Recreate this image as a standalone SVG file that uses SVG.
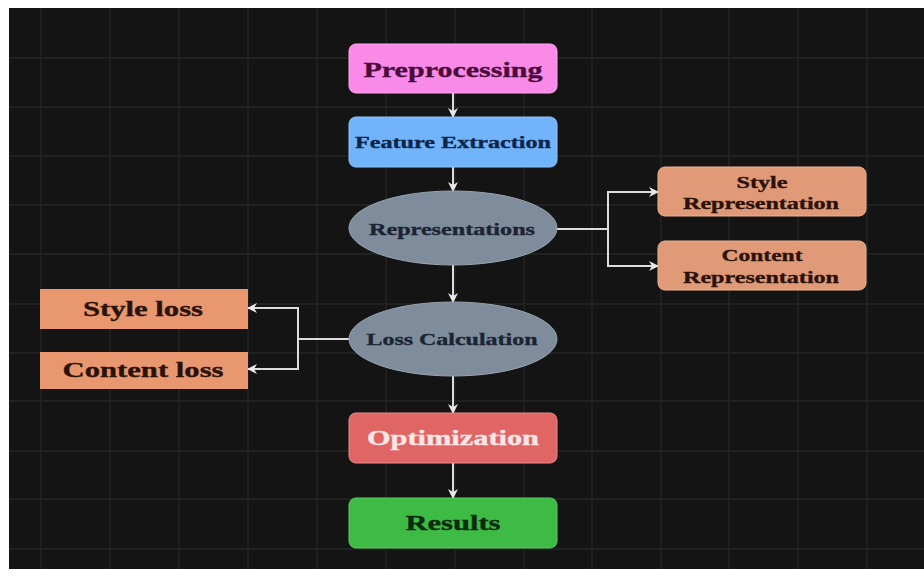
<svg xmlns="http://www.w3.org/2000/svg" width="924" height="576" viewBox="0 0 924 576">
<defs>
<style>
.grid line{stroke:#262626;stroke-width:1.3}
.t{font-family:"Liberation Serif","Times New Roman",serif;font-weight:bold;text-anchor:middle;stroke-width:0.35}
.c{fill:none;stroke:#dcdcdc;stroke-width:2}
</style>
<marker id="ah" viewBox="0 0 10 10" refX="9" refY="5" markerWidth="10" markerHeight="10" markerUnits="userSpaceOnUse" orient="auto">
<path d="M0,0 L10,5 L0,10 L3,5 Z" fill="#e8e8e8"/>
</marker>
</defs>
<rect x="0" y="0" width="924" height="576" fill="#ffffff"/>
<rect x="9" y="8" width="915" height="561" fill="#141414"/>
<g class="grid">
<line x1="41" y1="8" x2="41" y2="569"/><line x1="110" y1="8" x2="110" y2="569"/><line x1="179" y1="8" x2="179" y2="569"/><line x1="248" y1="8" x2="248" y2="569"/><line x1="317" y1="8" x2="317" y2="569"/><line x1="386" y1="8" x2="386" y2="569"/><line x1="455" y1="8" x2="455" y2="569"/><line x1="524" y1="8" x2="524" y2="569"/><line x1="592" y1="8" x2="592" y2="569"/><line x1="661" y1="8" x2="661" y2="569"/><line x1="729" y1="8" x2="729" y2="569"/><line x1="798" y1="8" x2="798" y2="569"/><line x1="867" y1="8" x2="867" y2="569"/>
<line x1="9" y1="58" x2="924" y2="58"/><line x1="9" y1="107" x2="924" y2="107"/><line x1="9" y1="156" x2="924" y2="156"/><line x1="9" y1="205" x2="924" y2="205"/><line x1="9" y1="254" x2="924" y2="254"/><line x1="9" y1="304" x2="924" y2="304"/><line x1="9" y1="353" x2="924" y2="353"/><line x1="9" y1="401" x2="924" y2="401"/><line x1="9" y1="451" x2="924" y2="451"/><line x1="9" y1="499" x2="924" y2="499"/><line x1="9" y1="549" x2="924" y2="549"/>
</g>
<g id="connectors">
<line class="c" x1="453" y1="93" x2="453" y2="117" marker-end="url(#ah)"/>
<line class="c" x1="453" y1="167" x2="453" y2="191" marker-end="url(#ah)"/>
<line class="c" x1="453" y1="265" x2="453" y2="302" marker-end="url(#ah)"/>
<line class="c" x1="453" y1="376" x2="453" y2="413" marker-end="url(#ah)"/>
<line class="c" x1="453" y1="463" x2="453" y2="498" marker-end="url(#ah)"/>
<polyline class="c" points="557,229 608,229 608,192 658,192" marker-end="url(#ah)"/>
<polyline class="c" points="608,229 608,266 658,266" marker-end="url(#ah)"/>
<polyline class="c" points="349,339 298,339 298,308 248,308" marker-end="url(#ah)"/>
<polyline class="c" points="298,339 298,369 248,369" marker-end="url(#ah)"/>
</g>
<g id="preprocessing">
<rect x="349" y="44" width="208" height="49" rx="7" fill="#f98ae8" stroke="#ffa8f0" stroke-width="1"/>
<text class="t" x="453" y="77" font-size="22" fill="#4a0c3a" stroke="#4a0c3a" textLength="179" lengthAdjust="spacingAndGlyphs">Preprocessing</text>
</g>
<g id="feature-extraction">
<rect x="349" y="117" width="208" height="50" rx="7" fill="#72b4fc" stroke="#8cc4ff" stroke-width="1"/>
<text class="t" x="453" y="148" font-size="17" fill="#0c2448" stroke="#0c2448" textLength="196" lengthAdjust="spacingAndGlyphs">Feature Extraction</text>
</g>
<g id="representations">
<ellipse cx="453" cy="228" rx="104" ry="37" fill="#7e8c9c" stroke="#98a4b2" stroke-width="1"/>
<text class="t" x="452" y="235" font-size="17" fill="#1b2433" stroke="#1b2433" textLength="166" lengthAdjust="spacingAndGlyphs">Representations</text>
</g>
<g id="style-representation">
<rect x="658" y="167" width="208" height="49" rx="7" fill="#e19a77" stroke="#eeb396" stroke-width="1"/>
<text class="t" x="762" y="188" font-size="17" fill="#2a120a" stroke="#2a120a" textLength="51" lengthAdjust="spacingAndGlyphs">Style</text>
<text class="t" x="761" y="209" font-size="17" fill="#2a120a" stroke="#2a120a" textLength="156" lengthAdjust="spacingAndGlyphs">Representation</text>
</g>
<g id="content-representation">
<rect x="658" y="241" width="208" height="49" rx="7" fill="#e19a77" stroke="#eeb396" stroke-width="1"/>
<text class="t" x="762" y="261" font-size="17" fill="#2a120a" stroke="#2a120a" textLength="81" lengthAdjust="spacingAndGlyphs">Content</text>
<text class="t" x="761" y="283" font-size="17" fill="#2a120a" stroke="#2a120a" textLength="156" lengthAdjust="spacingAndGlyphs">Representation</text>
</g>
<g id="loss-calculation">
<ellipse cx="453" cy="339" rx="104" ry="37" fill="#7e8c9c" stroke="#98a4b2" stroke-width="1"/>
<text class="t" x="452" y="345" font-size="17" fill="#1b2433" stroke="#1b2433" textLength="171" lengthAdjust="spacingAndGlyphs">Loss Calculation</text>
</g>
<g id="style-loss">
<rect x="40" y="289" width="208" height="40" fill="#e8976f"/>
<text class="t" x="143" y="316" font-size="21" fill="#2a120a" stroke="#2a120a" textLength="120" lengthAdjust="spacingAndGlyphs">Style loss</text>
</g>
<g id="content-loss">
<rect x="40" y="352" width="208" height="37" fill="#e8976f"/>
<text class="t" x="143" y="377" font-size="21" fill="#2a120a" stroke="#2a120a" textLength="161" lengthAdjust="spacingAndGlyphs">Content loss</text>
</g>
<g id="optimization">
<rect x="349" y="413" width="208" height="50" rx="7" fill="#e06666" stroke="#f08a8a" stroke-width="1"/>
<text class="t" x="453" y="445" font-size="21" fill="#ffe6e6" stroke="#ffe6e6" textLength="172" lengthAdjust="spacingAndGlyphs">Optimization</text>
</g>
<g id="results">
<rect x="349" y="498" width="208" height="50" rx="7" fill="#3dbb45" stroke="#5ccc62" stroke-width="1"/>
<text class="t" x="453" y="530" font-size="21" fill="#0b2c0c" stroke="#0b2c0c" textLength="95" lengthAdjust="spacingAndGlyphs">Results</text>
</g>
</svg>
